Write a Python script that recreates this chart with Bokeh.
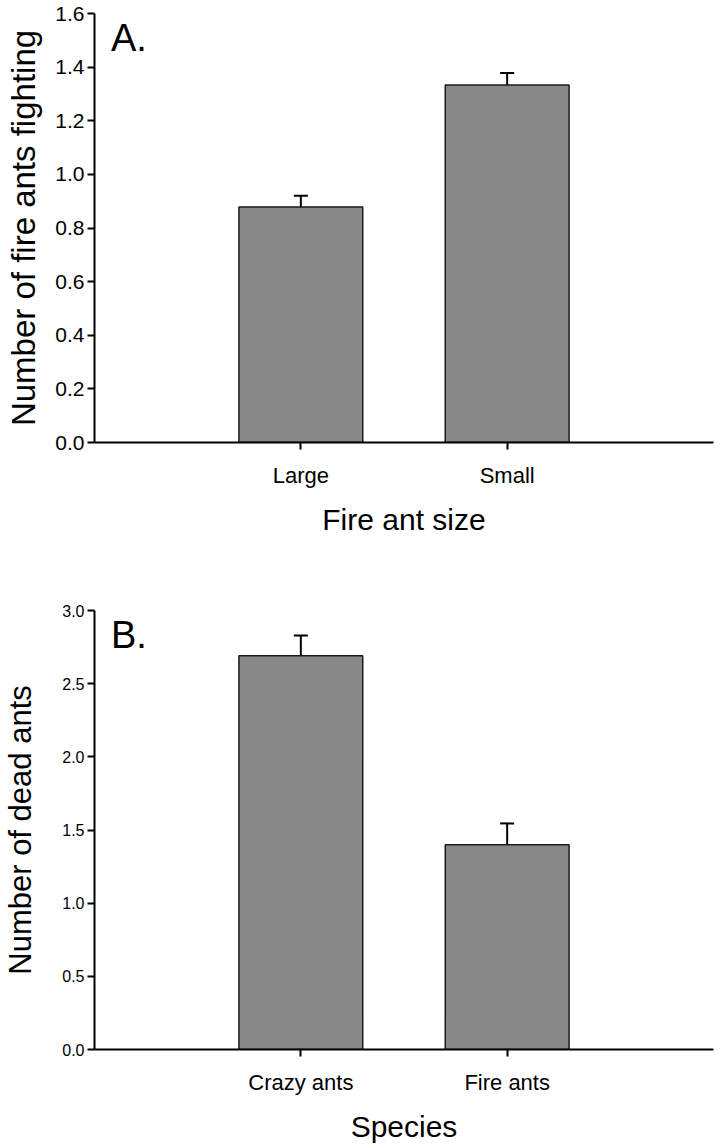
from bokeh.plotting import figure
from bokeh.models import (FactorRange, Range1d, ColumnDataSource, Whisker, TeeHead,
                          Label, FixedTicker, PrintfTickFormatter)
from bokeh.layouts import column
from bokeh.embed import file_html
from bokeh.resources import INLINE

# ---- data ----
a_categories = ["Large", "Small"]
a_means = [0.878, 1.333]
a_se = [0.042, 0.045]
a_yticks = [0.0, 0.2, 0.4, 0.6, 0.8, 1.0, 1.2, 1.4, 1.6]

b_categories = ["Crazy ants", "Fire ants"]
b_means = [2.69, 1.40]
b_se = [0.14, 0.145]
b_yticks = [0.0, 0.5, 1.0, 1.5, 2.0, 2.5, 3.0]

FONT = "Liberation Sans"


def make_panel(cats, means, se, yticks, ymax, letter, xtitle, ytitle,
               height, border_top, border_bottom, ytick_size, ytitle_size,
               ytitle_standoff):
    src = ColumnDataSource(dict(cat=cats, mean=means,
                                upper=[m + s for m, s in zip(means, se)]))
    p = figure(x_range=FactorRange(factors=cats, range_padding=0.5),
               y_range=Range1d(0, ymax),
               width=718, height=height,
               min_border_left=93, min_border_right=5,
               min_border_top=border_top, min_border_bottom=border_bottom,
               output_backend="svg", toolbar_location=None)
    p.outline_line_color = None
    p.xgrid.grid_line_color = None
    p.ygrid.grid_line_color = None
    p.background_fill_color = "white"
    p.border_fill_color = "white"

    p.vbar(x="cat", top="mean", width=0.6, source=src,
           fill_color="#888888", line_color="#1a1a1a", line_width=1.5)
    p.add_layout(Whisker(base="cat", upper="upper", lower="mean", source=src,
                         line_color="black", line_width=2,
                         upper_head=TeeHead(size=14, line_width=2, line_color="black"),
                         lower_head=None))

    for ax in (p.xaxis, p.yaxis):
        ax.axis_line_width = 2
        ax.axis_line_color = "black"
        ax.major_tick_line_width = 2
        ax.major_tick_line_color = "black"
        ax.major_tick_out = 7
        ax.major_tick_in = 0
        ax.minor_tick_line_color = None
        ax.major_label_text_font = FONT
        ax.major_label_text_color = "black"
        ax.axis_label_text_font = FONT
        ax.axis_label_text_font_style = "normal"
        ax.axis_label_text_color = "black"

    p.xaxis.major_label_text_font_size = "22px"
    p.xaxis.major_label_standoff = 13
    p.xaxis.axis_label = xtitle
    p.xaxis.axis_label_text_font_size = "30px"
    p.xaxis.axis_label_standoff = 12

    p.yaxis.ticker = FixedTicker(ticks=yticks)
    p.yaxis.formatter = PrintfTickFormatter(format="%.1f")
    p.yaxis.major_label_text_font_size = ytick_size
    p.yaxis.major_label_standoff = 3
    p.yaxis.axis_label = ytitle
    p.yaxis.axis_label_text_font_size = ytitle_size
    p.yaxis.axis_label_standoff = ytitle_standoff

    p.add_layout(Label(x=-0.42, y=ymax * 0.992, text=letter, text_font=FONT,
                       text_font_size="38px", text_baseline="top",
                       text_color="black"))
    return p


pa = make_panel(a_categories, a_means, a_se, a_yticks, 1.6, "A.",
                "Fire ant size", "Number of fire ants fighting",
                height=538, border_top=13, border_bottom=94,
                ytick_size="21px", ytitle_size="33px", ytitle_standoff=10)
pb = make_panel(b_categories, b_means, b_se, b_yticks, 3.0, "B.",
                "Species", "Number of dead ants",
                height=608, border_top=72, border_bottom=97,
                ytick_size="16px", ytitle_size="31px", ytitle_standoff=21)

layout = column(pa, pb, spacing=0)
open("out.html", "w").write(file_html(layout, INLINE))
